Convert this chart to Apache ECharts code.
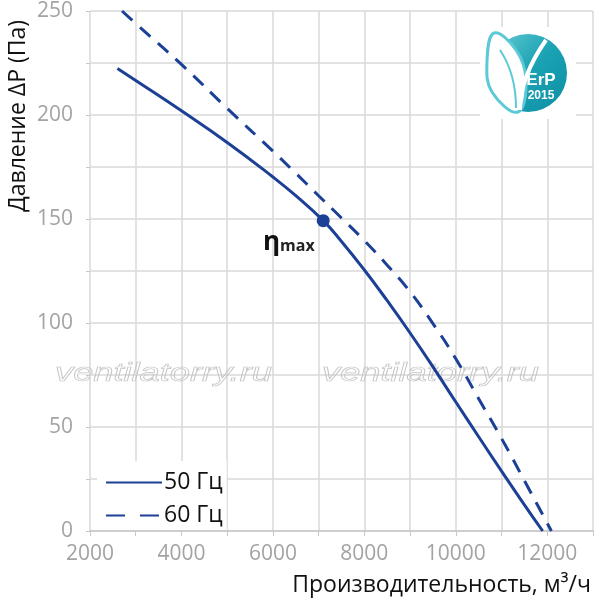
<!DOCTYPE html>
<html>
<head>
<meta charset="utf-8">
<script src="https://cdn.jsdelivr.net/npm/echarts@6/dist/echarts.min.js"></script>
<style>
  html, body { margin: 0; padding: 0; background: #fff; }
  #chart { width: 597px; height: 602px; }
</style>
</head>
<body>
<div id="chart"></div>
<script>
// 50 Гц curve (flow m3/h, pressure Pa)
const flow50 = [2600, 3000, 4000, 5000, 6000, 6500, 7100, 7500, 8000, 8500, 9000, 9500, 10000, 10500, 11000, 11500, 11900];
const pres50 = [222.4, 216.6, 202, 186.8, 170.2, 161.2, 149.2, 139.2, 125.5, 110.7, 95.2, 78.9, 62, 45.3, 28.8, 12.6, 0];
// 60 Гц curve
const flow60 = [2700, 3000, 4000, 5000, 6000, 6500, 7000, 7500, 8000, 8500, 9000, 9500, 10000, 10500, 11000, 11500, 12090];
const pres60 = [250, 244, 224.3, 203.2, 182.6, 172, 161.2, 150.5, 139.6, 127.8, 115, 99.7, 82.8, 63.6, 44.5, 24.2, 0];
// max efficiency point
const etaMax = [7100, 149.2];

const seriesNames = ['50 Гц', '60 Гц'];
const xTitle = 'Производительность, м³/ч';
const yTitle = 'Давление ΔP (Па)';
const watermark = 'ventilatorry.ru';

const blue = '#1b4095';
const font = '"Open Sans", "Noto Sans", sans-serif';

function pairs(xs, ys) {
    return xs.map(function (x, i) { return [x, ys[i]]; });
}

const chart = echarts.init(document.getElementById('chart'));
const opt = {
    animation: false,
    textStyle: { fontFamily: font },
    grid: { left: 90, right: 4, top: 11, bottom: 71 },
    legend: {
        orient: 'vertical',
        left: 97,
        top: 461,
        padding: [7, 4, 0, 8],
        backgroundColor: '#fff',
        itemWidth: 56,
        itemHeight: 14,
        itemGap: 4,
        itemStyle: { opacity: 0 },
        textStyle: { fontSize: 23, color: '#111', lineHeight: 29, padding: [0, 0, 0, -3] },
        data: [
            { name: seriesNames[0] },
            { name: seriesNames[1], lineStyle: { type: [19, 15] } }
        ]
    },
    xAxis: {
        type: 'value',
        min: 2000,
        max: 13000,
        interval: 1000,
        axisLine: { lineStyle: { color: '#c8c8c8', width: 1.5 } },
        axisTick: { show: true, length: 5, lineStyle: { color: '#c8c8c8' } },
        splitLine: { lineStyle: { color: '#d9d9d9', width: 1.5 } },
        axisLabel: {
            color: '#a3a3a3',
            fontSize: 21,
            margin: 13,
            formatter: function (v) { return (v % 2000 === 0 && v < 13000) ? v : ''; }
        }
    },
    yAxis: {
        type: 'value',
        min: 0,
        max: 250,
        interval: 25,
        axisLine: { show: false },
        axisTick: { show: true, length: 4, lineStyle: { color: '#c8c8c8' } },
        splitLine: { lineStyle: { color: '#d9d9d9', width: 1.5 } },
        axisLabel: {
            color: '#a3a3a3',
            fontSize: 21,
            margin: 17,
            formatter: function (v) { return v % 50 === 0 ? v : ''; }
        }
    },
    graphic: [
        // watermarks
        {
            type: 'text', x: 55, y: 362, scaleX: 1.45, z: 1,
            style: { text: watermark, font: 'italic 25px "Liberation Sans", Arial', fill: 'rgba(255,255,255,0)', stroke: '#c4c4c4', lineWidth: 0.7 }
        },
        {
            type: 'text', x: 322, y: 362, scaleX: 1.45, z: 1,
            style: { text: watermark, font: 'italic 25px "Liberation Sans", Arial', fill: 'rgba(255,255,255,0)', stroke: '#c4c4c4', lineWidth: 0.7 }
        },
        // axis titles
        {
            type: 'text', x: 18, y: 116, rotation: Math.PI / 2,
            style: { text: yTitle, font: '23px ' + font, fill: '#111', align: 'center', verticalAlign: 'middle' }
        },
        {
            type: 'text', x: 591, y: 585,
            style: { text: xTitle, font: '23px ' + font, fill: '#111', align: 'right', verticalAlign: 'middle' }
        },
        // ErP 2015 logo
        {
            type: 'rect', z: 20, shape: { x: 480, y: 27, width: 96, height: 92 }, style: { fill: '#fff' }
        },
        {
            type: 'circle', z: 21, shape: { cx: 528, cy: 73, r: 39 },
            style: {
                fill: new echarts.graphic.LinearGradient(0, 0, 1, 1, [
                    { offset: 0, color: '#66cbd3' },
                    { offset: 0.5, color: '#1aa2b3' },
                    { offset: 1, color: '#0f8ea3' }
                ])
            }
        },
        {
            type: 'polygon', z: 22,
            shape: { points: [[518, 112], [492, 92], [487, 62], [494, 33], [516, 50], [526, 80]], smooth: 0.4 },
            style: { fill: '#fff', stroke: '#5ccad6', lineWidth: 3 }
        },
        {
            type: 'bezierCurve', z: 23,
            shape: { x1: 500, y1: 50, cpx1: 512, cpy1: 68, cpx2: 516, cpy2: 88, x2: 516, y2: 108 },
            style: { fill: null, stroke: '#5ccad6', lineWidth: 2 }
        },
        {
            type: 'bezierCurve', z: 23,
            shape: { x1: 520, y1: 110, cpx1: 520, cpy1: 84, cpx2: 532, cpy2: 60, x2: 546, y2: 40 },
            style: { fill: null, stroke: '#fff', lineWidth: 4 }
        },
        {
            type: 'text', z: 24, x: 541, y: 80,
            style: { text: 'ErP', font: 'bold 17px "Liberation Sans", Arial', fill: '#fff', align: 'center', verticalAlign: 'middle' }
        },
        {
            type: 'text', z: 24, x: 541, y: 96,
            style: { text: '2015', font: 'bold 12px "Liberation Sans", Arial', fill: '#fff', align: 'center', verticalAlign: 'middle' }
        }
    ],
    series: [
        {
            name: seriesNames[0],
            type: 'line',
            smooth: 0.5,
            symbol: 'none',
            lineStyle: { color: blue, width: 3 },
            itemStyle: { color: blue },
            data: pairs(flow50, pres50)
        },
        {
            name: seriesNames[1],
            type: 'line',
            smooth: 0.5,
            symbol: 'none',
            lineStyle: { color: blue, width: 3, type: [14, 10] },
            itemStyle: { color: blue },
            data: pairs(flow60, pres60)
        },
        {
            name: 'eta',
            type: 'scatter',
            symbolSize: 13,
            itemStyle: { color: blue, opacity: 1 },
            z: 5,
            label: {
                show: true,
                position: 'left',
                distance: 2,
                offset: [0, 22],
                formatter: '{a|η}{b|max}',
                rich: {
                    a: { fontSize: 26, fontWeight: 'bold', color: '#111', fontFamily: font },
                    b: { fontSize: 16, fontWeight: 'bold', color: '#222', fontFamily: font, padding: [7, 0, 0, 0] }
                }
            },
            data: [etaMax]
        }
    ]
};
chart.setOption(opt);
</script>
</body>
</html>
